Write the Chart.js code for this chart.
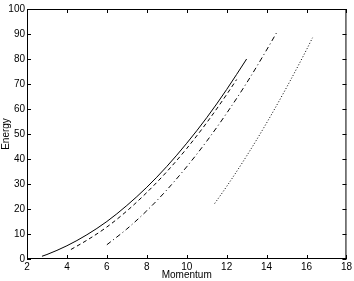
<!DOCTYPE html>
<html>
<head>
<meta charset="utf-8">
<script src="https://cdn.jsdelivr.net/npm/chart.js@4"></script>
<style>
  html, body { margin: 0; padding: 0; background: #fff; }
  canvas { display: block; }
</style>
</head>
<body>
<canvas id="chart" width="354" height="281"></canvas>
<script>
// Momentum / energy curves
const solidP = [2.75, 3, 4, 5, 6, 7, 8, 9, 10, 11, 12, 13];
const solidE = [1.1, 1.8, 5.3, 9.7, 15.0, 21.4, 28.7, 37.0, 46.3, 56.5, 67.8, 80.0];

const dashP = [4.2, 5, 6, 7, 8, 9, 10, 11, 12, 12.5];
const dashE = [3.8, 7.5, 12.8, 19.2, 26.6, 34.9, 44.2, 54.5, 65.8, 71.8];

const dashDotP = [6, 7, 8, 9, 10, 11, 12, 13, 14, 14.5];
const dashDotE = [5.7, 12.0, 19.3, 27.6, 36.9, 47.1, 58.3, 70.4, 83.6, 90.5];

const dotP = [11.4, 12, 13, 14, 15, 16, 16.3];
const dotE = [22.2, 29.0, 41.2, 54.4, 68.6, 83.7, 88.5];

const xTicks = [2, 4, 6, 8, 10, 12, 14, 16, 18];
const yTicks = [0, 10, 20, 30, 40, 50, 60, 70, 80, 90, 100];

const FONT = "'Liberation Sans', Arial, sans-serif";

function pts(xs, ys) {
    return xs.map((x, i) => ({ x: x, y: ys[i] }));
}

function line(xs, ys, dash) {
    return {
        data: pts(xs, ys),
        borderColor: "#000",
        borderWidth: 1,
        borderDash: dash,
        pointRadius: 0,
        fill: false,
        cubicInterpolationMode: "monotone"
    };
}

// box + inward tick marks, matlab style
const boxTicks = {
    id: "boxTicks",
    afterDraw(chart) {
        const c = chart.ctx, a = chart.chartArea;
        const xs = chart.scales.x, ys = chart.scales.y;
        c.save();
        c.strokeStyle = "#000";
        c.lineWidth = 1;
        c.strokeRect(a.left + 0.5, a.top + 0.5, a.right - a.left - 1, a.bottom - a.top - 1);
        c.beginPath();
        xTicks.forEach(v => {
            const px = Math.round(xs.getPixelForValue(v)) + 0.5;
            c.moveTo(px, a.bottom); c.lineTo(px, a.bottom - 4);
            c.moveTo(px, a.top); c.lineTo(px, a.top + 4);
        });
        yTicks.forEach(v => {
            const py = Math.round(ys.getPixelForValue(v)) + 0.5;
            c.moveTo(a.left, py); c.lineTo(a.left + 4, py);
            c.moveTo(a.right, py); c.lineTo(a.right - 4, py);
        });
        c.stroke();
        c.restore();
    }
};

new Chart(document.getElementById("chart").getContext("2d"), {
    type: "line",
    data: {
        datasets: [
            line(solidP, solidE, []),
            line(dashP, dashE, [4, 3]),
            line(dashDotP, dashDotE, [5, 3, 1, 3]),
            line(dotP, dotE, [1, 2])
        ]
    },
    options: {
        responsive: false,
        animation: false,
        devicePixelRatio: 1,
        layout: { padding: { top: 9, right: 7, left: 0, bottom: 0 } },
        plugins: { legend: { display: false }, tooltip: { enabled: false } },
        scales: {
            x: {
                type: "linear",
                min: 2, max: 18,
                afterFit: s => { s.height = 22; },
                afterBuildTicks: s => { s.ticks = xTicks.map(v => ({ value: v })); },
                grid: { drawOnChartArea: false, drawTicks: false },
                border: { display: false },
                ticks: { color: "#000", padding: 2, font: { family: FONT, size: 10 }, maxRotation: 0 },
                title: { display: true, text: "Momentum", color: "#000", padding: { top: 0, bottom: 0 }, font: { family: FONT, size: 10 } }
            },
            y: {
                type: "linear",
                min: 0, max: 100,
                afterFit: s => { s.width = 27; },
                afterBuildTicks: s => { s.ticks = yTicks.map(v => ({ value: v })); },
                grid: { drawOnChartArea: false, drawTicks: false },
                border: { display: false },
                ticks: { color: "#000", padding: 2, font: { family: FONT, size: 10 } },
                title: { display: true, text: "Energy", color: "#000", padding: { top: 0, bottom: 0 }, font: { family: FONT, size: 10 } }
            }
        }
    },
    plugins: [boxTicks]
});
</script>
</body>
</html>
